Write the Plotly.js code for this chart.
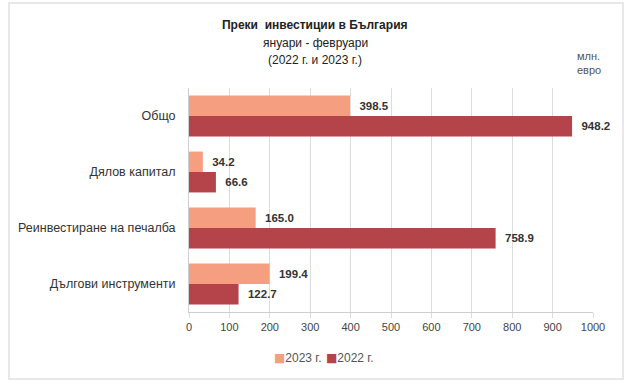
<!DOCTYPE html>
<html>
<head>
<meta charset="utf-8">
<script src="https://cdn.plot.ly/plotly-3.0.1.min.js"></script>
<style>
html,body{margin:0;padding:0;background:#fff;}
#wrap{position:relative;width:627px;height:384px;}
#chart{position:absolute;left:0;top:0;width:627px;height:384px;}
#frame{position:absolute;left:8px;top:2px;width:612px;height:374px;border:2px solid #e8e8e8;pointer-events:none;}
</style>
</head>
<body>
<div id="wrap"><div id="chart"></div><div id="frame"></div></div>
<script>
const categories = ["Общо", "Дялов капитал", "Реинвестиране на печалба", "Дългови инструменти"];
const values2023 = [398.5, 34.2, 165.0, 199.4];
const values2022 = [948.2, 66.6, 758.9, 122.7];
const seriesNames = ["2023 г.", "2022 г."];
const seriesColors = ["#F59E80", "#B44449"];
const xTicks = [0, 100, 200, 300, 400, 500, 600, 700, 800, 900, 1000];
const titleLines = ["Преки\u00a0 инвестиции в България", "януари - февруари", "(2022 г. и 2023 г.)"];

const labelFont = {family: "Liberation Sans, Arial, sans-serif", size: 11.5, color: "#333333", weight: "bold"};

const traces = [
  {type: "bar", orientation: "h", name: seriesNames[0], y: categories, x: values2023,
   marker: {color: seriesColors[0]}, text: values2023.map(v => "\u00a0\u00a0" + v.toFixed(1)),
   textposition: "outside", textfont: labelFont, cliponaxis: false, hoverinfo: "x+y"},
  {type: "bar", orientation: "h", name: seriesNames[1], y: categories, x: values2022,
   marker: {color: seriesColors[1]}, text: values2022.map(v => "\u00a0\u00a0" + v.toFixed(1)),
   textposition: "outside", textfont: labelFont, cliponaxis: false, hoverinfo: "x+y"}
];

const legendAnn = seriesNames.map((n, i) => ({
  text: "<span style='color:" + seriesColors[i] + ";font-family:DejaVu Sans'>■</span>" + n,
  xref: "paper", yref: "paper", x: [0.205, 0.335][i], y: -0.205,
  xanchor: "left", yanchor: "middle", showarrow: false,
  font: {size: 12, color: "#555555"}
}));

const subtitleAnn = [titleLines[1], titleLines[2]].map((t, i) => ({
  text: t, xref: "paper", yref: "paper", x: 0.313, y: [1.2009, 1.125][i],
  xanchor: "center", yanchor: "middle", showarrow: false,
  font: {size: 12, color: "#222222"}
}));

const layout = {
  width: 627, height: 384,
  margin: {l: 189, r: 34, t: 88, b: 72},
  paper_bgcolor: "rgba(0,0,0,0)", plot_bgcolor: "#ffffff",
  font: {family: "Liberation Sans, Arial, sans-serif", color: "#333333"},
  barmode: "group", bargap: 0.27, bargroupgap: 0,
  title: {
    text: "<b>" + titleLines[0] + "</b>",
    x: 0.502, xanchor: "center", y: 0.935, yanchor: "middle",
    font: {size: 12, color: "#222222"}
  },
  xaxis: {
    range: [0, 1000], tickvals: xTicks, ticktext: xTicks.map(String),
    showgrid: true, gridcolor: "#dcdcdc", gridwidth: 1,
    showline: true, linecolor: "#cfcfcf", linewidth: 1,
    ticks: "outside", ticklen: 5, tickcolor: "#dcdcdc",
    tickfont: {size: 11, color: "#444444"}, zeroline: false, fixedrange: true
  },
  yaxis: {
    autorange: "reversed", showline: true, linecolor: "#cfcfcf", linewidth: 1,
    ticks: "", tickfont: {size: 12.5, color: "#333333"}, ticklabelstandoff: 10, fixedrange: true
  },
  annotations: [
    {text: "млн.<br>евро", xref: "paper", yref: "paper", x: 0.955, y: 1.18,
     xanchor: "left", yanchor: "top", align: "left", showarrow: false,
     font: {size: 11, color: "#555555"}}
  ].concat(subtitleAnn, legendAnn),
  showlegend: false
};

Plotly.newPlot("chart", traces, layout, {displayModeBar: false, staticPlot: true});
</script>
</body>
</html>
